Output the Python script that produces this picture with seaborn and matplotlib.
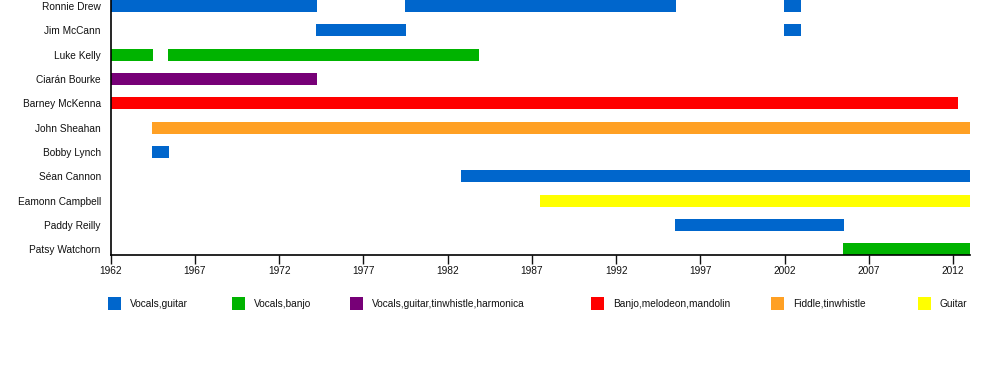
import matplotlib
matplotlib.use("Agg")
import matplotlib.pyplot as plt
import seaborn as sns
import pandas as pd
from matplotlib.patches import Rectangle

members = ["Ronnie Drew", "Jim McCann", "Luke Kelly", "Ciarán Bourke", "Barney McKenna",
           "John Sheahan", "Bobby Lynch", "Séan Cannon", "Eamonn Campbell", "Paddy Reilly",
           "Patsy Watchorn"]

roles = ["Vocals,guitar", "Vocals,banjo", "Vocals,guitar,tinwhistle,harmonica",
         "Banjo,melodeon,mandolin", "Fiddle,tinwhistle", "Guitar"]
role_colors = ["#0066cc", "#00b300", "#770077", "#ff0000", "#ffa024", "#ffff00"]

seg_member = ["Ronnie Drew", "Ronnie Drew", "Ronnie Drew", "Jim McCann", "Jim McCann",
              "Luke Kelly", "Luke Kelly", "Ciarán Bourke", "Barney McKenna", "John Sheahan",
              "Bobby Lynch", "Séan Cannon", "Eamonn Campbell", "Paddy Reilly", "Patsy Watchorn"]
seg_start = [1962.0, 1979.47, 2001.95, 1974.2, 2001.95,
             1962.0, 1965.41, 1962.0, 1962.0, 1964.45,
             1964.45, 1982.8, 1987.47, 1995.48, 2005.45]
seg_end = [1974.25, 1995.54, 2003.0, 1979.53, 2003.0,
           1964.52, 1983.86, 1974.25, 2012.3, 2013.0,
           1965.47, 2013.0, 2013.0, 2005.5, 2013.0]
seg_role = ["Vocals,guitar", "Vocals,guitar", "Vocals,guitar", "Vocals,guitar", "Vocals,guitar",
            "Vocals,banjo", "Vocals,banjo", "Vocals,guitar,tinwhistle,harmonica",
            "Banjo,melodeon,mandolin", "Fiddle,tinwhistle", "Vocals,guitar", "Vocals,guitar",
            "Guitar", "Vocals,guitar", "Vocals,banjo"]

year_ticks = [1962, 1967, 1972, 1977, 1982, 1987, 1992, 1997, 2002, 2007, 2012]
x_min, x_max = 1962, 2013

sns.set_style("white")
plt.rcParams["font.family"] = ["Liberation Sans", "DejaVu Sans"]

df = pd.DataFrame({"member": seg_member, "start": seg_start, "end": seg_end, "role": seg_role})
color_map = dict(zip(roles, role_colors))
row_of = {m: i for i, m in enumerate(members)}

fig = plt.figure(figsize=(10, 3.75), dpi=100)
ax = fig.add_axes([0.1105, 0.32, 0.8595, 0.68])

for _, r in df.iterrows():
    ax.barh(row_of[r["member"]], r["end"] - r["start"], left=r["start"], height=0.49,
            color=color_map[r["role"]], edgecolor="none")

ax.set_xlim(x_min, x_max)
ax.set_ylim(len(members) - 1 + 0.23, -0.25)
ax.set_yticks(range(len(members)))
ax.set_yticklabels(members)
ax.set_xticks(year_ticks)
ax.set_xticklabels([str(y) for y in year_ticks])
ax.tick_params(axis="y", length=0, pad=7, labelsize=7.3, colors="#111111")
ax.tick_params(axis="x", length=6.5, width=1, direction="out", pad=1.5, labelsize=7.3,
               colors="#111111", bottom=True)
sns.despine(ax=ax, top=True, right=True)
for s in ["left", "bottom"]:
    ax.spines[s].set_color("black")
    ax.spines[s].set_linewidth(1.2)
ax.grid(False)

# legend (manual placement to match reference spacing)
legend_x = [108, 232, 350, 591, 771, 918]
W, H = 1000, 375
for xpx, role, col in zip(legend_x, roles, role_colors):
    fig.patches.append(Rectangle((xpx / W, 1 - 310 / H), 13 / W, 13 / H,
                                 transform=fig.transFigure, facecolor=col, edgecolor="none"))
    fig.text((xpx + 22) / W, 1 - 304 / H, role, fontsize=7.3, va="center", ha="left",
             color="#111111")

fig.savefig("out.png", dpi=100)
